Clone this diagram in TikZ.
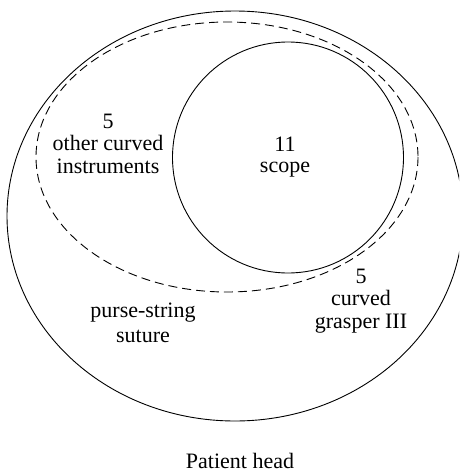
\documentclass[tikz,border=0pt]{standalone}
\usepackage{fontspec}
\setmainfont{Liberation Serif}
\usepackage{tikz}
\tikzset{
  ring/.style={line width=0.9pt,black},
  dashring/.style={ring,dash pattern=on 9pt off 5pt},
  lbl/.style={anchor=base,inner sep=0pt,font=\fontsize{22}{22.5}\selectfont}
}

\begin{document}
\begin{tikzpicture}[x=1pt,y=-1pt]
\useasboundingbox (0,0) rectangle (459,472);
\clip (0,0) rectangle (459,472);
% head, instrument zone, scope
\draw[ring] (235,216) ellipse (228 and 205);
\draw[dashring] (227,157) ellipse (191 and 135);
\draw[ring] (288,157.5) circle (115.5);
% labels
\foreach \t [count=\i] in {5,other curved,instruments}
  \node[lbl] (oth\i) at (108,{128+(\i-1)*22.5}) {\t};
\foreach \t [count=\i] in {11,scope}
  \node[lbl] (scp\i) at (285,{151+(\i-1)*21}) {\t};
\foreach \t [count=\i] in {purse-string,suture}
  \node[lbl] (pss\i) at (143,{317+(\i-1)*25}) {\t};
\foreach \t [count=\i] in {5,curved,grasper III}
  \node[lbl] (cgr\i) at (361,{283+(\i-1)*22.5}) {\t};
\node[lbl] (head) at (240,468) {Patient head};
\end{tikzpicture}
\end{document}
